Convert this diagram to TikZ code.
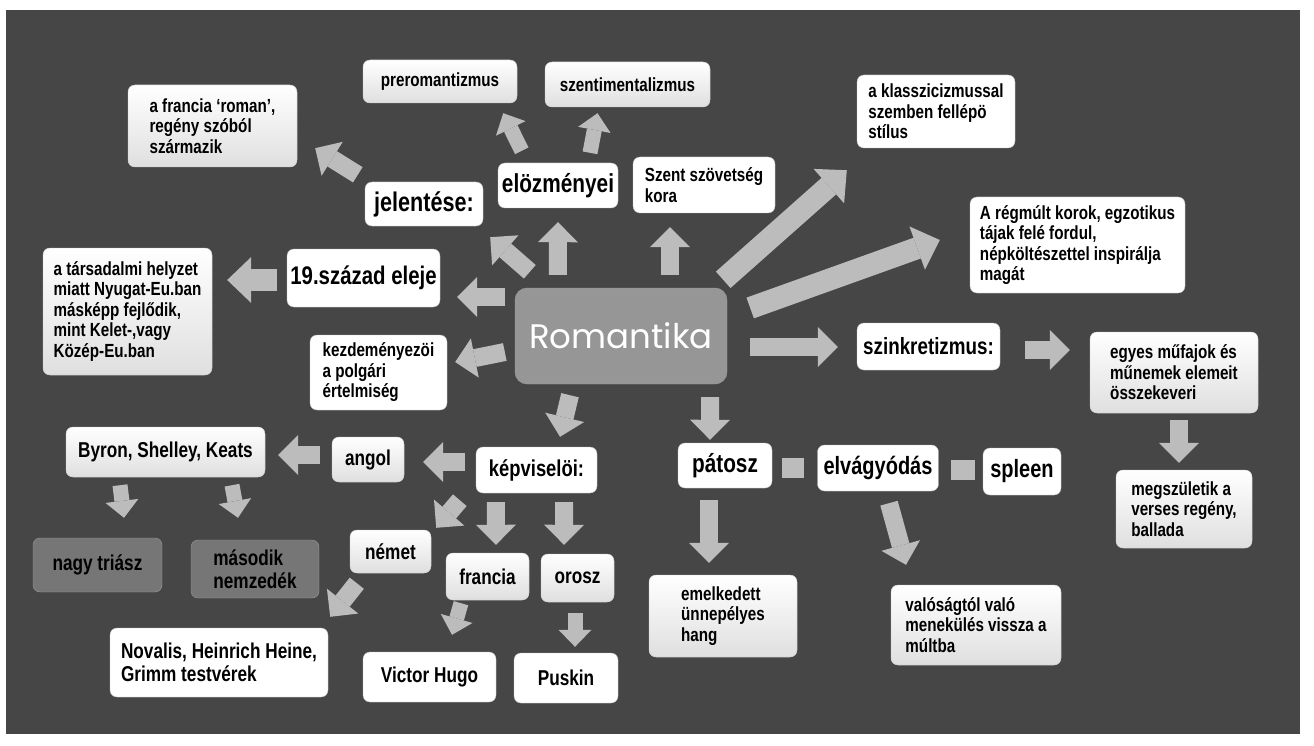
\documentclass[tikz,border=0pt]{standalone}
\usepackage{fontspec}
\setmainfont[FakeStretch=0.8]{Liberation Sans}
\newfontfamily\romfont{Poppins}
\usetikzlibrary{arrows.meta,calc}

\definecolor{bggray}{RGB}{70,70,70}
\definecolor{arrowgray}{RGB}{188,188,188}
\definecolor{romgray}{RGB}{150,150,150}
\definecolor{darkbox}{RGB}{118,118,118}

\begin{document}
\begin{tikzpicture}[x=1pt,y=-1pt,font=\bfseries\fontsize{19}{20.5}\selectfont,
    box/.style={draw=gray!45,fill=white,rounded corners=7pt,inner xsep=6pt,inner ysep=0pt,align=left},
    lightbox/.style={box,top color=white,bottom color=gray!25},
    graybox/.style={box,fill=darkbox,draw=gray!80,text=black},
    romstyle/.style={box,fill=romgray,draw=gray!75,rounded corners=12pt,text=white,font=\romfont\fontsize{34}{40}\selectfont},
    biglabel/.style={font=\bfseries\fontsize{#1}{#1}\selectfont},
    midlabel/.style={font=\bfseries\fontsize{21.5}{23}\selectfont},
    arr/.style={draw=arrowgray,line width=18pt,-{Triangle[width=40pt,length=20pt,line width=0pt]}},
    smallarr/.style={draw=arrowgray,line width=15pt,-{Triangle[width=33pt,length=17pt,line width=0pt]}},
    bigarr/.style={draw=arrowgray,line width=22pt,-{Triangle[width=46pt,length=24pt,line width=0pt]}},
    link/.style={draw=arrowgray,line width=20pt}]

    \fill [white] (0,0) rectangle (1314,746);
    \fill [bggray] (6,10) rectangle (1300,734);

    \node [lightbox,minimum width=169pt,minimum height=82pt] (roman) at (212.5,126) {a francia `roman',\\ regény szóból\\ származik};
    \node [lightbox,minimum width=154pt,minimum height=43pt] (prerom) at (440,81.5) {preromantizmus};
    \node [lightbox,minimum width=165pt,minimum height=45pt] (szentim) at (627.5,84.5) {szentimentalizmus};
    \node [box,biglabel=27,minimum width=118pt,minimum height=44pt] (jelentese) at (424,204) {jelentése:};
    \node [box,biglabel=26,minimum width=120pt,minimum height=45pt,inner xsep=3pt] (elozm) at (558,185.5) {elözményei};
    \node [box,minimum width=142pt,minimum height=56pt] (szent) at (704,185) {Szent szövetség\\ kora};
    \node [box,minimum width=158pt,minimum height=73pt] (klassz) at (936,111.5) {a klasszicizmussal\\ szemben fellépö\\ stílus};
    \node [box,minimum width=215pt,minimum height=96pt] (regmult) at (1077.5,245) {A régmúlt korok, egzotikus\\ tájak felé fordul,\\ népköltészettel inspirálja\\ magát};
    \node [box,biglabel=25.5,minimum width=153pt,minimum height=58pt,inner xsep=3pt] (szazad) at (363.5,278) {19.század eleje};
    \node [lightbox,minimum width=169pt,minimum height=127pt] (tarsad) at (127.5,311.5) {a társadalmi helyzet\\ miatt Nyugat-Eu.ban\\ másképp fejlődik,\\ mint Kelet-,vagy\\ Közép-Eu.ban};
    \node [romstyle,minimum width=212pt,minimum height=96pt] (romantika) at (621,336) {Romantika};
    \node [box,minimum width=137pt,minimum height=75pt] (kezdem) at (378.5,372.5) {kezdeményezöi\\ a polgári\\ értelmiség};
    \node [box,biglabel=23.5,minimum width=143pt,minimum height=47pt,inner xsep=3pt] (szinkr) at (928.5,346.5) {szinkretizmus:};
    \node [lightbox,minimum width=168pt,minimum height=81pt] (egyes) at (1174,372.5) {egyes műfajok és\\ műnemek elemeit\\ összekeveri};
    \node [lightbox,midlabel,minimum width=199pt,minimum height=50pt] (byron) at (165.5,452) {Byron, Shelley, Keats};
    \node [lightbox,midlabel,minimum width=72pt,minimum height=45pt] (angol) at (368,459.5) {angol};
    \node [box,biglabel=23,minimum width=121pt,minimum height=46pt] (kepvis) at (536.5,470) {képviselöi:};
    \node [box,biglabel=26,minimum width=94pt,minimum height=45pt] (patosz) at (725,465.5) {pátosz};
    \node [box,biglabel=25,minimum width=120pt,minimum height=46pt] (elvagy) at (878,468) {elvágyódás};
    \node [box,biglabel=25,minimum width=78pt,minimum height=47pt] (spleen) at (1022,471.5) {spleen};
    \node [lightbox,minimum width=136pt,minimum height=78pt] (megsz) at (1184,509) {megszületik a\\ verses regény,\\ ballada};
    \node [graybox,midlabel,minimum width=129pt,minimum height=54pt] (nagy) at (97.5,565) {nagy triász};
    \node [graybox,midlabel,minimum width=128pt,minimum height=58pt] (masodik) at (255,569) {második\\ nemzedék};
    \node [lightbox,midlabel,minimum width=81pt,minimum height=43pt] (nemet) at (390.5,551.5) {német};
    \node [lightbox,midlabel,minimum width=83pt,minimum height=47pt] (francia) at (487.5,576.5) {francia};
    \node [lightbox,midlabel,minimum width=73pt,minimum height=48pt] (orosz) at (577.5,578) {orosz};
    \node [lightbox,minimum width=148pt,minimum height=82pt] (emelk) at (723,616) {emelkedett\\ ünnepélyes\\ hang};
    \node [lightbox,minimum width=170pt,minimum height=80pt] (valosag) at (976,625) {valóságtól való\\ menekülés vissza a\\ múltba};
    \node [box,midlabel,minimum width=218pt,minimum height=69pt] (novalis) at (219,662.5) {Novalis, Heinrich Heine,\\ Grimm testvérek};
    \node [box,midlabel,minimum width=133pt,minimum height=50pt] (hugo) at (429.5,677) {Victor Hugo};
    \node [box,midlabel,minimum width=104pt,minimum height=50pt] (puskin) at (566,678) {Puskin};

    \draw [arr] ($(romantika.north west)+(15,-16)$) -- ($(jelentese.south east)+(7,11)$);
    \draw [arr] ($(romantika.north west)+(43,-13)$) -- ($(elozm.south)+(0,14)$);
    \draw [arr] ($(romantika.north)+(49,-13)$) -- ($(szent.south)+(-34,14)$);
    \draw [smallarr] ($(elozm.north west)+(24,-12)$) -- ($(prerom.south east)+(-14,10)$);
    \draw [smallarr] ($(elozm.north)+(32,-10)$) -- ($(szentim.south)+(-30,6)$);
    \draw [arr] ($(jelentese.north west)+(-7,-7)$) -- ($(roman.south east)+(18,-19)$);
    \draw [arr] ($(romantika.west)+(-10,-39)$) -- ($(szazad.east)+(17,19)$);
    \draw [arr] ($(romantika.west)+(-10,16)$) -- ($(kezdem.east)+(8,-10.5)$);
    \draw [bigarr] ($(szazad.west)+(-10,2)$) -- ($(tarsad.east)+(15,-31.5)$);
    \draw [bigarr] ($(romantika.north east)+(-4,-8)$) -- ($(klassz.south west)+(-10,22)$);
    \draw [bigarr] ($(romantika.east)+(23,-28)$) -- ($(regmult.west)+(-30,-5)$);
    \draw [arr] ($(romantika.east)+(23,11)$) -- ($(szinkr.west)+(-19,0.5)$);
    \draw [arr] ($(szinkr.east)+(25,3.5)$) -- ($(egyes.west)+(-20,-22.5)$);
    \draw [arr] ($(egyes.south)+(5,7)$) -- ($(megsz.north)+(-5,-7)$);
    \draw [arr] ($(romantika.south)+(-51,11)$) -- ($(kepvis.north)+(23.5,-10)$);
    \draw [arr] ($(romantika.south east)+(-17,13)$) -- ($(patosz.north)+(-15,-3)$);
    \draw [arr] ($(kepvis.west)+(-11,-8)$) -- ($(angol.east)+(19,2.5)$);
    \draw [arr] ($(angol.west)+(-12,-4.5)$) -- ($(byron.east)+(13,3)$);
    \draw [smallarr] ($(byron.south)+(-45.5,8)$) -- ($(nagy.north)+(26.5,-20)$);
    \draw [smallarr] ($(byron.south)+(66.5,8)$) -- ($(masodik.north)+(-17,-22)$);
    \draw [arr] ($(kepvis.south west)+(-16,7)$) -- ($(nemet.north east)+(5,-2)$);
    \draw [arr] ($(kepvis.south west)+(20,9)$) -- ($(francia.north)+(8.5,-8)$);
    \draw [arr] ($(kepvis.south east)+(-33,9)$) -- ($(orosz.north)+(-13.5,-9)$);
    \draw [arr] ($(nemet.south west)+(7,10)$) -- ($(novalis.north east)+(2,-11)$);
    \draw [smallarr] ($(francia.south)+(-26.5,3)$) -- ($(hugo.north)+(22.5,-17)$);
    \draw [smallarr] ($(orosz.south)+(-2.5,11)$) -- ($(puskin.north)+(9,-6)$);
    \draw [arr] ($(patosz.south)+(-16,12)$) -- ($(emelk.north)+(-14,-12)$);
    \draw [arr] ($(elvagy.south)+(11,12)$) -- ($(valosag.north)+(-70,-20)$);
    \draw [link] ($(patosz.east)+(10,2.5)$) -- ($(elvagy.west)+(-13,0)$);
    \draw [link] ($(elvagy.east)+(12,2)$) -- ($(spleen.west)+(-8,-1.5)$);
\end{tikzpicture}
\end{document}
